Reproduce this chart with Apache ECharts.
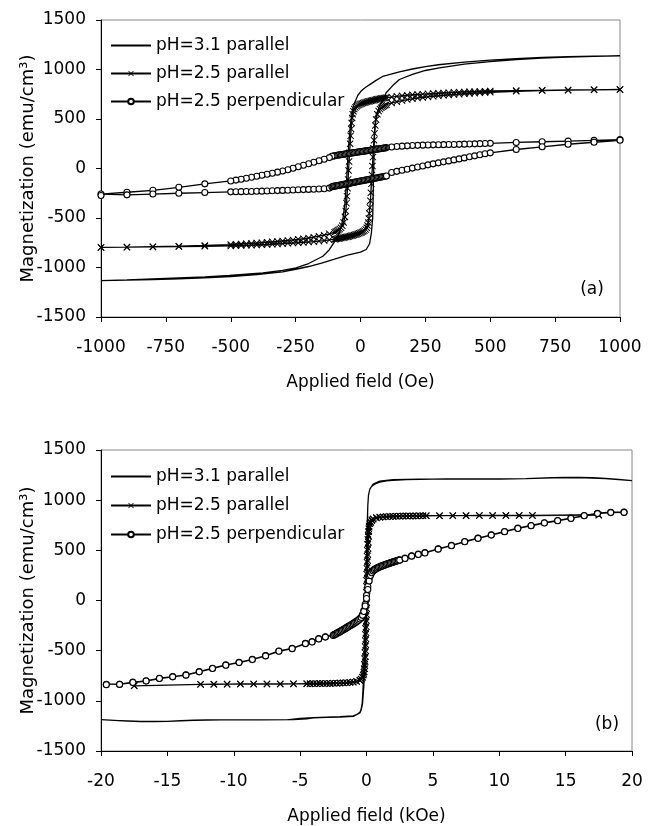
<!DOCTYPE html>
<html>
<head>
<meta charset="utf-8">
<script src="https://cdn.jsdelivr.net/npm/echarts@6/dist/echarts.min.js"></script>
<style>
html,body{margin:0;padding:0;background:#fff;}
#chart{width:654px;height:826px;}
</style>
</head>
<body>
<div id="chart"></div>
<script>
// ---------- legend names ----------
var seriesNames = ['pH=3.1 parallel', 'pH=2.5 parallel', 'pH=2.5 perpendicular'];
var panelLabels = ['(a)', '(b)'];

// ---------- ticks ----------
var yTicks = [-1500, -1000, -500, 0, 500, 1000, 1500];
var xTicksA = [-1000, -750, -500, -250, 0, 250, 500, 750, 1000];
var xTicksB = [-20, -15, -10, -5, 0, 5, 10, 15, 20];

// ================= PANEL (a): field in Oe =================
// pH=3.1 parallel (line only)
var a31DescH = [1000,900,800,700,600,500,400,300,250,200,150,100,85,60,40,20,9,0,-10,-23,-30,-36,-40,-45,-49,-52,-55,-60,-68,-80,-94,-120,-145,-200,-248,-300,-376,-505,-600,-700,-800,-900,-1000];
var a31DescM = [1138,1135,1130,1122,1110,1095,1075,1048,1030,1005,975,940,930,890,855,820,798,775,740,663,600,495,400,250,100,-50,-178,-350,-515,-640,-717,-820,-886,-960,-1003,-1030,-1054,-1081,-1095,-1105,-1115,-1125,-1132];
var a31AscH = [-1000,-900,-800,-700,-600,-500,-400,-300,-235,-200,-150,-100,-50,0,22,35,42,47,49,51,53,55,60,73,99,125,150,200,250,304,400,500,600,700,800,900,1000];
var a31AscM = [-1132,-1128,-1122,-1115,-1105,-1092,-1072,-1045,-1010,-990,-955,-915,-875,-845,-818,-760,-650,-500,-250,0,250,420,530,630,765,840,899,950,990,1017,1055,1080,1100,1115,1125,1132,1138];

// pH=2.5 parallel (x markers)
var a25ParDescH = [1000,900,800,700,600,500,480,460,440,420,400,380,360,340,320,300,280,260,240,220,200,180,160,140,120,100,95,90,85,80,75,70,65,60,55,50,45,40,35,30,25,20,15,10,5,0,-5,-10,-15,-20,-24,-27,-30,-32,-34,-36,-38,-40,-42,-44,-46,-48,-50,-52,-54,-57,-60,-65,-70,-75,-80,-85,-90,-95,-100,-120,-140,-160,-180,-200,-220,-240,-260,-280,-300,-320,-340,-360,-380,-400,-420,-440,-460,-480,-500,-600,-700,-800,-900,-1000];
var a25ParDescM = [797,795,793,790,787,783,781,779,777,775,773,771,769,766,763,760,757,754,751,748,745,740,735,729,722,715,713,711,709,706,704,701,699,696,693,690,687,684,680,677,673,669,665,661,656,651,645,638,629,617,600,578,548,510,460,400,330,250,160,70,-20,-110,-200,-280,-350,-430,-490,-545,-578,-598,-612,-622,-630,-637,-643,-660,-673,-684,-694,-702,-709,-715,-721,-727,-732,-737,-741,-745,-749,-753,-756,-759,-762,-765,-768,-778,-785,-790,-794,-797];
var a25ParAscH = [-1000,-900,-800,-700,-600,-500,-480,-460,-440,-420,-400,-380,-360,-340,-320,-300,-280,-260,-240,-220,-200,-180,-160,-140,-120,-100,-95,-90,-85,-80,-75,-70,-65,-60,-55,-50,-45,-40,-35,-30,-25,-20,-15,-10,-5,0,5,10,15,20,24,27,30,32,34,36,38,40,42,44,46,48,50,52,54,57,60,65,70,75,80,85,90,95,100,120,140,160,180,200,220,240,260,280,300,320,340,360,380,400,420,440,460,480,500,600,700,800,900,1000];
var a25ParAscM = [-797,-795,-792,-789,-786,-782,-780,-778,-776,-774,-772,-770,-768,-765,-762,-759,-756,-753,-750,-747,-743,-739,-734,-728,-721,-714,-712,-710,-708,-705,-703,-700,-698,-695,-692,-689,-686,-683,-679,-676,-672,-668,-664,-660,-655,-650,-644,-637,-628,-615,-598,-575,-545,-505,-455,-395,-325,-245,-155,-65,25,115,205,285,355,435,495,548,580,600,614,624,632,639,645,662,675,686,696,704,711,717,723,729,734,739,743,747,751,755,758,761,764,767,770,780,787,791,795,798];

// pH=2.5 perpendicular (open circles)
var a25PerpDescH = [1000,900,800,700,600,500,480,460,440,420,400,380,360,340,320,300,280,260,240,220,200,180,160,140,120,100,95,90,85,80,75,70,65,60,55,50,45,40,35,30,25,20,15,10,5,0,-5,-10,-15,-20,-25,-30,-35,-40,-45,-50,-55,-60,-65,-70,-75,-80,-85,-90,-95,-100,-105,-110,-120,-140,-160,-180,-200,-220,-240,-260,-280,-300,-320,-340,-360,-380,-400,-420,-440,-460,-480,-500,-600,-700,-800,-900,-1000];
var a25PerpDescM = [292,284,277,270,263,254,252,251,249,247,246,244,243,242,241,240,239,238,236,234,232,229,226,222,217,211,208,206,204,202,200,198,196,194,192,190,188,186,184,182,180,178,176,174,172,170,168,166,164,162,160,158,156,154,152,150,148,146,144,142,140,138,136,134,131,128,126,124,110,93,78,63,48,33,18,3,-12,-25,-37,-48,-58,-68,-78,-88,-98,-108,-117,-126,-155,-190,-220,-240,-258];
var a25PerpAscH = [-1000,-900,-800,-700,-600,-500,-480,-460,-440,-420,-400,-380,-360,-340,-320,-300,-280,-260,-240,-220,-200,-180,-160,-140,-120,-110,-105,-100,-95,-90,-85,-80,-75,-70,-65,-60,-55,-50,-45,-40,-35,-30,-25,-20,-15,-10,-5,0,5,10,15,20,25,30,35,40,45,50,55,60,65,70,75,80,85,90,95,100,120,140,160,180,200,220,240,260,280,300,320,340,360,380,400,420,440,460,480,500,600,700,800,900,1000];
var a25PerpAscM = [-272,-266,-258,-250,-243,-236,-235,-234,-233,-232,-230,-229,-227,-225,-223,-221,-219,-217,-215,-213,-211,-209,-207,-205,-198,-184,-181,-178,-176,-173,-171,-168,-166,-163,-161,-158,-155,-153,-150,-148,-145,-142,-140,-137,-135,-132,-130,-127,-124,-122,-119,-117,-114,-112,-109,-106,-104,-101,-99,-96,-94,-91,-89,-86,-84,-81,-79,-76,-40,-29,-18,-7,4,15,26,37,47,57,67,77,87,97,107,118,128,139,149,158,192,219,245,265,285];

// ================= PANEL (b): field in kOe =================
var b31DescH = [20,19,18,17,16,15,14,13,12,11,10,9,8,7,6,5,4,3,2,1.5,1,0.7,0.5,0.35,0.25,0.15,0.1,0.05,0,-0.05,-0.1,-0.2,-0.3,-0.4,-0.5,-1,-2,-3,-4,-4.5,-5.5,-8,-11,-13,-15,-17,-19,-20];
var b31DescM = [1195,1206,1216,1224,1228,1228,1225,1220,1215,1212,1211,1211,1212,1212,1211,1210,1208,1204,1198,1192,1180,1165,1150,1130,1110,1050,950,700,300,-100,-500,-850,-1030,-1090,-1120,-1155,-1162,-1165,-1170,-1180,-1188,-1190,-1190,-1195,-1204,-1205,-1195,-1188];
var b31AscH = [-20,-19,-18,-17,-16,-15,-14,-13,-12,-10,-8,-6,-5,-4,-3,-2,-1,-0.7,-0.5,-0.4,-0.32,-0.25,-0.15,-0.08,0,0.05,0.1,0.15,0.25,0.5,1,2,4,6,8,10,12,14,16,18,19,20];
var b31AscM = [-1188,-1195,-1203,-1206,-1206,-1204,-1198,-1192,-1190,-1190,-1190,-1190,-1175,-1168,-1162,-1158,-1150,-1135,-1115,-1080,-1020,-850,-450,-50,400,750,950,1050,1110,1160,1190,1205,1210,1210,1212,1212,1215,1222,1225,1215,1205,1195];

var b25ParDescH = [17.5,12.5,11.5,10.5,9.5,8.5,7.5,6.5,5.5,4.5,4.25,4,3.75,3.5,3.25,3,2.75,2.5,2.25,2,1.75,1.5,1.25,1,0.75,0.5,0.4,0.3,0.25,0.2,0.18,0.16,0.14,0.12,0.1,0.09,0.08,0.07,0.06,0.05,0.04,0.03,0.02,0.01,0,-0.01,-0.02,-0.03,-0.04,-0.05,-0.06,-0.08,-0.1,-0.12,-0.14,-0.17,-0.2,-0.3,-0.4,-0.5,-0.75,-1,-1.25,-1.5,-1.75,-2,-2.25,-2.5,-2.75,-3,-3.25,-3.5,-3.75,-4,-4.25,-4.5,-5.5,-6.5,-7.5,-8.5,-9.5,-10.5,-11.5,-12.5,-17.5];
var b25ParDescM = [850,847,847,846,846,846,845,845,845,844,844,844,843,843,843,842,842,841,840,839,838,836,834,831,826,815,805,785,765,730,690,640,580,520,460,400,340,280,220,160,100,40,-20,-80,-140,-200,-260,-320,-380,-440,-500,-560,-610,-650,-680,-710,-735,-765,-785,-797,-808,-814,-818,-820,-822,-823,-824,-825,-826,-826,-827,-827,-828,-828,-829,-829,-830,-831,-831,-832,-832,-833,-834,-835,-850];
var b25ParAscH = [-17.5,-12.5,-11.5,-10.5,-9.5,-8.5,-7.5,-6.5,-5.5,-4.5,-4.25,-4,-3.75,-3.5,-3.25,-3,-2.75,-2.5,-2.25,-2,-1.75,-1.5,-1.25,-1,-0.75,-0.5,-0.4,-0.3,-0.25,-0.2,-0.18,-0.16,-0.14,-0.12,-0.1,-0.09,-0.08,-0.07,-0.06,-0.05,-0.04,-0.03,-0.02,-0.01,0,0.01,0.02,0.03,0.04,0.05,0.06,0.08,0.1,0.12,0.14,0.17,0.2,0.3,0.4,0.5,0.75,1,1.25,1.5,1.75,2,2.25,2.5,2.75,3,3.25,3.5,3.75,4,4.25,4.5,5.5,6.5,7.5,8.5,9.5,10.5,11.5,12.5,17.5];
var b25ParAscM = [-850,-836,-835,-834,-833,-833,-832,-832,-831,-830,-830,-829,-829,-828,-828,-827,-826,-825,-824,-823,-821,-819,-816,-812,-806,-795,-783,-765,-745,-715,-680,-635,-580,-520,-460,-400,-340,-280,-220,-160,-100,-40,20,80,140,200,260,320,380,440,500,560,610,650,685,715,740,775,795,810,822,828,832,834,836,838,839,840,841,842,842,843,843,844,844,845,845,846,846,847,847,847,848,848,852];

var b25PerpDescH = [19.4,18.4,17.4,16.4,15.4,14.4,13.4,12.4,11.4,10.4,9.4,8.4,7.4,6.4,5.4,4.4,3.9,3.4,2.9,2.5,2.4,2.3,2.2,2.1,2.0,1.9,1.8,1.7,1.6,1.5,1.4,1.3,1.2,1.1,1.0,0.9,0.8,0.7,0.6,0.5,0.4,0.3,0.2,0.1,0,-0.1,-0.2,-0.3,-0.4,-0.5,-0.6,-0.7,-0.8,-0.9,-1.0,-1.1,-1.2,-1.3,-1.4,-1.5,-1.6,-1.7,-1.8,-1.9,-2.0,-2.1,-2.2,-2.3,-2.4,-2.5,-3.1,-3.6,-4.1,-4.6,-5.6,-6.6,-7.6,-8.6,-9.6,-10.6,-11.6,-12.6,-13.6,-14.6,-15.6,-16.6,-17.6,-18.6,-19.6];
var b25PerpDescM = [881,880,870,847,821,798,775,748,721,688,655,622,588,549,515,477,462,445,422,406,402,398,394,390,386,381,377,372,368,363,358,353,348,343,338,332,326,319,311,300,285,262,220,140,50,-40,-100,-140,-165,-180,-192,-202,-211,-220,-228,-236,-244,-252,-260,-268,-276,-284,-292,-300,-308,-315,-322,-330,-337,-344,-362,-380,-410,-427,-477,-503,-549,-586,-616,-642,-675,-708,-741,-758,-775,-801,-814,-834,-834];
var b25PerpAscH = [-19.6,-18.6,-17.6,-16.6,-15.6,-14.6,-13.6,-12.6,-11.6,-10.6,-9.6,-8.6,-7.6,-6.6,-5.6,-4.6,-4.1,-3.6,-3.1,-2.5,-2.4,-2.3,-2.2,-2.1,-2.0,-1.9,-1.8,-1.7,-1.6,-1.5,-1.4,-1.3,-1.2,-1.1,-1.0,-0.9,-0.8,-0.7,-0.6,-0.5,-0.4,-0.3,-0.2,-0.1,0,0.1,0.2,0.3,0.4,0.5,0.6,0.7,0.8,0.9,1.0,1.1,1.2,1.3,1.4,1.5,1.6,1.7,1.8,1.9,2.0,2.1,2.2,2.3,2.4,2.5,2.9,3.4,3.9,4.4,5.4,6.4,7.4,8.4,9.4,10.4,11.4,12.4,13.4,14.4,15.4,16.4,17.4,18.4,19.4];
var b25PerpAscM = [-840,-836,-818,-803,-778,-761,-744,-711,-678,-645,-619,-589,-552,-506,-480,-430,-413,-383,-365,-348,-341,-334,-327,-320,-313,-305,-297,-289,-281,-273,-265,-257,-249,-241,-233,-225,-216,-207,-197,-185,-170,-148,-110,-55,20,110,195,248,276,293,305,314,322,328,334,339,344,349,354,359,364,368,373,377,382,386,390,394,398,402,419,442,459,474,512,546,585,619,652,685,718,745,772,795,818,844,866,876,878];

// ---------- helpers ----------
function zip(h, m) { var out = []; for (var i = 0; i < h.length; i++) out.push([h[i], m[i]]); return out; }
function loop(dh, dm, ah, am) { return zip(dh, dm).concat(zip(ah, am)); }

var FONT = 'DejaVu Sans';
var XSYM = 'path://M0,1 L1,0 L5,4 L9,0 L10,1 L6,5 L10,9 L9,10 L5,6 L1,10 L0,9 L4,5 Z';
function plain(v) { return String(v); }

function makeSeries(gi, d31, d25par, d25perp) {
  return [
    { name: seriesNames[0], type: 'line', xAxisIndex: gi, yAxisIndex: gi, data: d31,
      symbol: 'none', lineStyle: { color: '#000', width: 1.3 }, itemStyle: { color: '#000' }, z: 3 },
    { name: seriesNames[1], type: 'line', xAxisIndex: gi, yAxisIndex: gi, data: d25par,
      symbol: XSYM, symbolSize: 7, showAllSymbol: true,
      lineStyle: { color: '#000', width: 1.3 }, itemStyle: { color: '#000' }, z: 4 },
    { name: seriesNames[2], type: 'line', xAxisIndex: gi, yAxisIndex: gi, data: d25perp,
      symbol: 'circle', symbolSize: 6, showAllSymbol: true,
      lineStyle: { color: '#000', width: 1.3 }, itemStyle: { color: '#fff', borderColor: '#000', borderWidth: 1.1 }, z: 5 }
  ];
}

function xAxisCfg(gi, ticks, name) {
  return { gridIndex: gi, type: 'value', min: ticks[0], max: ticks[ticks.length - 1], interval: ticks[1] - ticks[0],
    axisLine: { onZero: false, lineStyle: { color: '#000', width: 1 } },
    axisTick: { show: true, length: 5, lineStyle: { color: '#000' } },
    splitLine: { show: false },
    axisLabel: { color: '#000', fontFamily: FONT, fontSize: 17, margin: 22, formatter: plain },
    name: name, nameLocation: 'middle', nameGap: 57,
    nameTextStyle: { color: '#000', fontFamily: FONT, fontSize: 17 } };
}
function yAxisCfg(gi) {
  return { gridIndex: gi, type: 'value', min: yTicks[0], max: yTicks[yTicks.length - 1], interval: yTicks[1] - yTicks[0],
    axisLine: { show: true, onZero: false, lineStyle: { color: '#000', width: 1 } },
    axisTick: { show: true, length: 5, lineStyle: { color: '#000' } },
    splitLine: { show: false },
    axisLabel: { color: '#000', fontFamily: FONT, fontSize: 17, margin: 15, formatter: plain },
    name: 'Magnetization (emu/cm³)', nameLocation: 'middle', nameGap: 64, nameRotate: 90,
    nameMoveOverlap: false,
    nameTextStyle: { color: '#000', fontFamily: FONT, fontSize: 18 } };
}
function legendCfg(top, gap) {
  return { orient: 'vertical', left: 110, top: top, padding: 0, itemWidth: 40, itemHeight: 7, itemGap: gap,
    selectedMode: false,
    data: [ { name: seriesNames[0], itemStyle: { opacity: 0 } }, { name: seriesNames[1] }, { name: seriesNames[2] } ],
    textStyle: { color: '#000', fontFamily: FONT, fontSize: 17 } };
}

var chart = echarts.init(document.getElementById('chart'), null, { renderer: 'canvas' });
chart.setOption({
  backgroundColor: '#fff',
  animation: false,
  grid: [
    { left: 101, right: 34, top: 20, height: 297, show: true, borderColor: '#888', borderWidth: 1, backgroundColor: 'transparent' },
    { left: 101, right: 22, top: 450, height: 302, show: true, borderColor: '#888', borderWidth: 1, backgroundColor: 'transparent' }
  ],
  xAxis: [ xAxisCfg(0, xTicksA, 'Applied field (Oe)'), xAxisCfg(1, xTicksB, 'Applied field (kOe)') ],
  yAxis: [ yAxisCfg(0), yAxisCfg(1) ],
  legend: [ legendCfg(37, 11), legendCfg(468, 12) ],
  graphic: [
    { type: 'text', x: 592, y: 290, style: { text: panelLabels[0], fill: '#000', font: '17px "DejaVu Sans"', textAlign: 'center', textVerticalAlign: 'middle' } },
    { type: 'text', x: 607, y: 725, style: { text: panelLabels[1], fill: '#000', font: '17px "DejaVu Sans"', textAlign: 'center', textVerticalAlign: 'middle' } }
  ],
  series: [].concat(
    makeSeries(0,
      loop(a31DescH, a31DescM, a31AscH, a31AscM),
      loop(a25ParDescH, a25ParDescM, a25ParAscH, a25ParAscM),
      loop(a25PerpDescH, a25PerpDescM, a25PerpAscH, a25PerpAscM)),
    makeSeries(1,
      loop(b31DescH, b31DescM, b31AscH, b31AscM),
      loop(b25ParDescH, b25ParDescM, b25ParAscH, b25ParAscM),
      loop(b25PerpDescH, b25PerpDescM, b25PerpAscH, b25PerpAscM))
  )
});
</script>
</body>
</html>
